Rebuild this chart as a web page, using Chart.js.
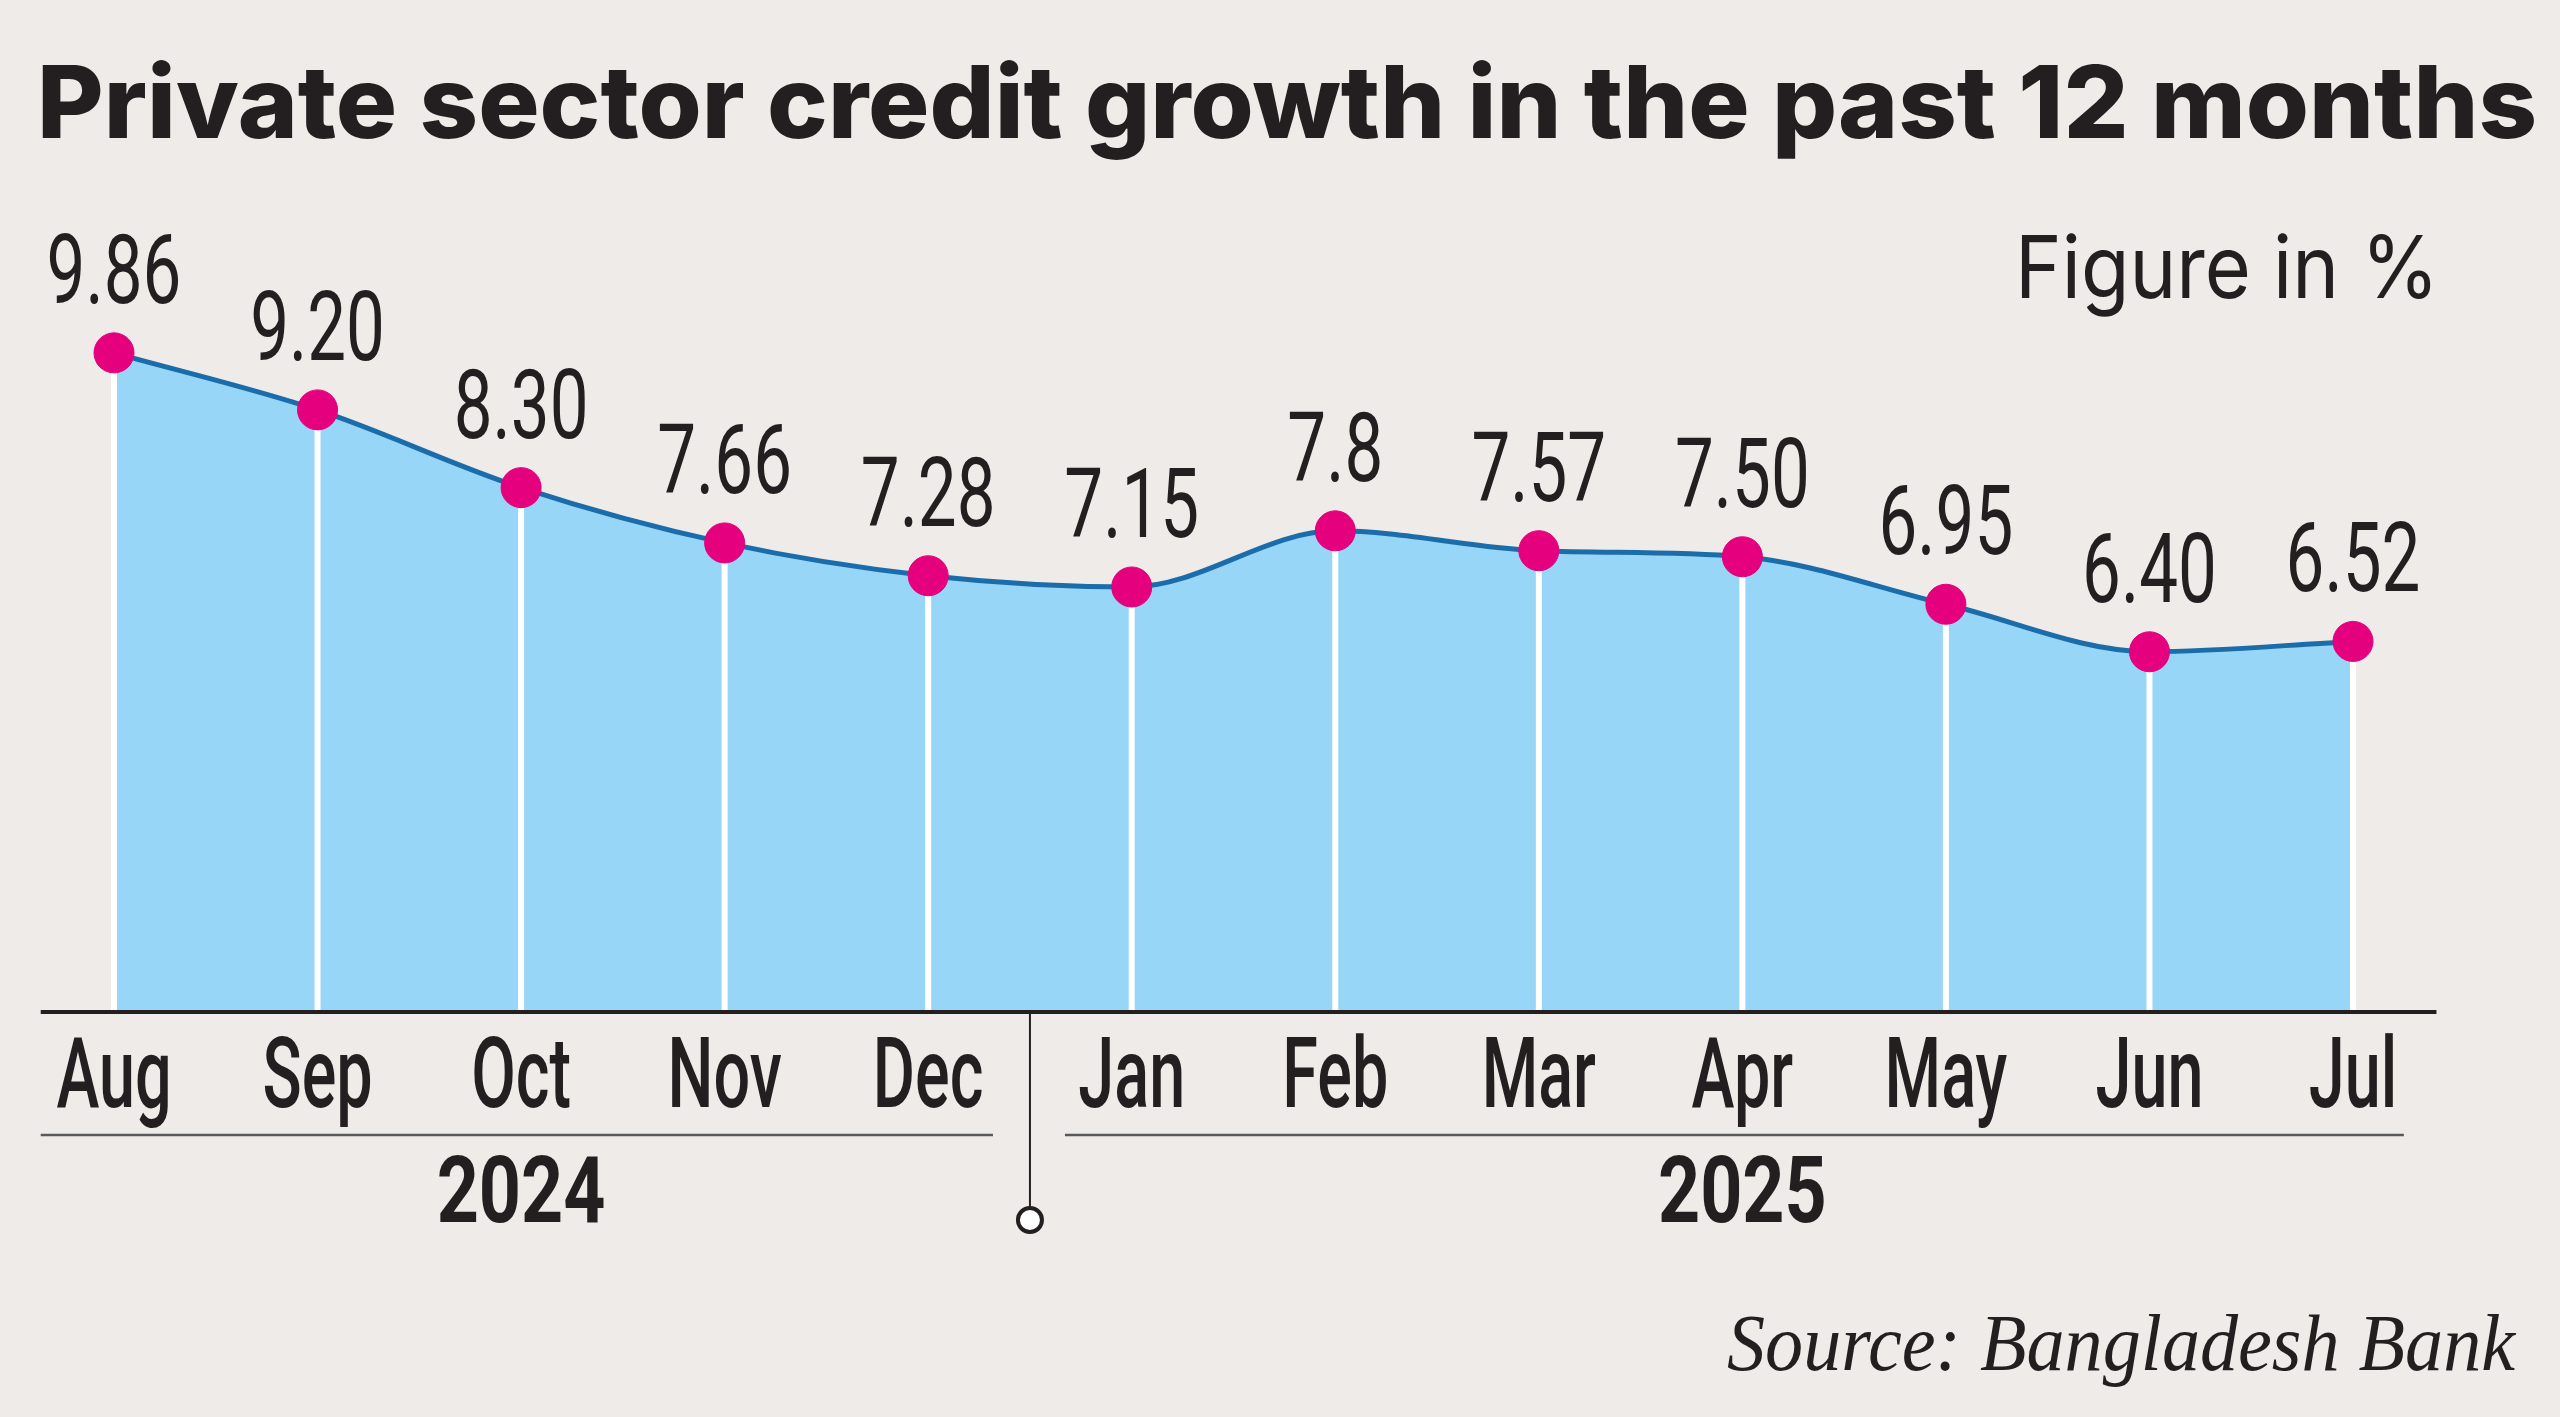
<!DOCTYPE html>
<html>
<head>
<meta charset="utf-8">
<title>Private sector credit growth in the past 12 months</title>
<script src="https://cdn.jsdelivr.net/npm/chart.js@4.4.1/dist/chart.umd.min.js"></script>
<style>
    html, body { margin: 0; padding: 0; background: #efebe8; }
    .chart-box { position: relative; width: 2560px; height: 1417px; }
</style>
</head>
<body>
<div class="chart-box"><canvas class="credit_growth"></canvas></div>
<script>
var months = ["Aug", "Sep", "Oct", "Nov", "Dec", "Jan", "Feb", "Mar", "Apr", "May", "Jun", "Jul"];
var growth = [9.86, 9.20, 8.30, 7.66, 7.28, 7.15, 7.8, 7.57, 7.50, 6.95, 6.40, 6.52];
var growthLabels = ["9.86", "9.20", "8.30", "7.66", "7.28", "7.15", "7.8", "7.57", "7.50", "6.95", "6.40", "6.52"];
var years = ["2024", "2025"];
var yearFirstMonth = [0, 5];

var ink = "#231f20";
var grotesk = "Roboto, 'Noto Sans', sans-serif";

// draws text squeezed (or stretched) to an exact width
function fitText(ctx, text, x, y, width, align) {
    var w = ctx.measureText(text).width;
    ctx.save();
    ctx.translate(x, y);
    ctx.scale(width / w, 1);
    ctx.textAlign = align;
    ctx.fillText(text, 0, 0);
    ctx.restore();
}

// the reference uses a condensed face, so squeeze a normal one
function squeezeText(ctx, text, x, y, sx) {
    ctx.save();
    ctx.translate(x, y);
    ctx.scale(sx, 1);
    ctx.textAlign = "center";
    ctx.fillText(text, 0, 0);
    ctx.restore();
}

var decorations = {
    id: "decorations",
    beforeDraw: function (chart) {
        var ctx = chart.ctx;
        ctx.save();
        ctx.fillStyle = "#efebe8";
        ctx.fillRect(0, 0, chart.width, chart.height);
        ctx.restore();
    },
    // white drop lines, above the fill and under the line
    beforeDatasetDraw: function (chart, args) {
        var ctx = chart.ctx;
        var bottom = chart.chartArea.bottom;
        ctx.save();
        ctx.strokeStyle = "#ffffff";
        ctx.lineWidth = 6;
        args.meta.data.forEach(function (pt) {
            ctx.beginPath();
            ctx.moveTo(pt.x, pt.y);
            ctx.lineTo(pt.x, bottom);
            ctx.stroke();
        });
        ctx.restore();
    },
    afterDatasetsDraw: function (chart) {
        var ctx = chart.ctx;
        var x = chart.scales.x;
        var area = chart.chartArea;
        var points = chart.getDatasetMeta(0).data;
        var step = x.getPixelForValue(1) - x.getPixelForValue(0);
        var split = (x.getPixelForValue(yearFirstMonth[1] - 1) + x.getPixelForValue(yearFirstMonth[1])) / 2;

        ctx.save();

        // axis line
        ctx.strokeStyle = ink;
        ctx.lineWidth = 4;
        ctx.beginPath();
        ctx.moveTo(area.left - step * 0.36, area.bottom);
        ctx.lineTo(area.right + step * 0.41, area.bottom);
        ctx.stroke();

        ctx.fillStyle = ink;
        ctx.textBaseline = "alphabetic";

        // value labels
        ctx.font = "400 96px " + grotesk;
        points.forEach(function (pt, i) {
            squeezeText(ctx, growthLabels[i], pt.x, pt.y - 50, 0.72);
        });

        // month labels on the category ticks
        ctx.font = "500 98px " + grotesk;
        x.ticks.forEach(function (tick, i) {
            squeezeText(ctx, x.getLabelForValue(tick.value), x.getPixelForTick(i), area.bottom + 95, 0.66);
        });

        // year rules
        var ruleY = area.bottom + 123;
        ctx.strokeStyle = "#58595b";
        ctx.lineWidth = 2.5;
        ctx.beginPath();
        ctx.moveTo(area.left - step * 0.36, ruleY);
        ctx.lineTo(split - 37, ruleY);
        ctx.moveTo(split + 35, ruleY);
        ctx.lineTo(area.right + step * 0.25, ruleY);
        ctx.stroke();

        // year labels
        ctx.font = "700 92px " + grotesk;
        years.forEach(function (year, i) {
            var first = yearFirstMonth[i];
            var last = i + 1 < years.length ? yearFirstMonth[i + 1] - 1 : months.length - 1;
            var cx = (x.getPixelForValue(first) + x.getPixelForValue(last)) / 2;
            squeezeText(ctx, year, cx, area.bottom + 210, 0.8);
        });

        // divider between the years
        ctx.strokeStyle = ink;
        ctx.lineWidth = 2;
        ctx.beginPath();
        ctx.moveTo(split, area.bottom);
        ctx.lineTo(split, area.bottom + 195);
        ctx.stroke();
        ctx.beginPath();
        ctx.arc(split, area.bottom + 208, 12, 0, Math.PI * 2);
        ctx.fillStyle = "#ffffff";
        ctx.fill();
        ctx.lineWidth = 4;
        ctx.stroke();

        ctx.restore();
    },
    afterDraw: function (chart) {
        var ctx = chart.ctx;
        ctx.save();
        ctx.fillStyle = ink;
        ctx.textBaseline = "alphabetic";

        ctx.font = "800 100px Inter, 'Noto Sans', sans-serif";
        fitText(ctx, "Private sector credit growth in the past 12 months", 37, 138, 2500, "left");

        ctx.font = "400 87px Inter, 'Noto Sans', sans-serif";
        fitText(ctx, "Figure in %", 2439, 298, 424, "right");

        ctx.font = "italic 80px 'Liberation Serif', 'DejaVu Serif', serif";
        fitText(ctx, "Source: Bangladesh Bank", 2515, 1370, 788, "right");

        ctx.restore();
    }
};

var creditContext = document.querySelector(".credit_growth");
var creditChart = new Chart(creditContext, {
    // The type of chart we want to create
    type: 'line',

    // The data for our dataset
    data: {
        labels: months,
        datasets: [{
            label: "Private sector credit growth",
            data: growth,
            borderColor: '#1a6daa',
            borderWidth: 5,
            backgroundColor: '#97d6f7',
            fill: 'start',
            cubicInterpolationMode: 'monotone',
            pointRadius: 20,
            pointHoverRadius: 20,
            pointBackgroundColor: '#e5007e',
            pointBorderColor: '#e5007e',
            pointBorderWidth: 1,
            clip: false
        }]
    },

    // Configuration options go here
    options: {
        responsive: true,
        maintainAspectRatio: false,
        animation: false,
        layout: {
            padding: { top: 168, left: 114, right: 207, bottom: 275 }
        },
        plugins: {
            legend: { display: false },
            title: { display: false },
            tooltip: { enabled: false }
        },
        scales: {
            x: {
                offset: false,
                grid: { display: false, drawTicks: false },
                border: { display: false },
                ticks: { display: false, autoSkip: false },
                afterFit: function (scale) {
                    scale.height = 130;
                }
            },
            y: {
                display: false,
                min: 2.23,
                max: 12
            }
        }
    },
    plugins: [decorations]
});
</script>
</body>
</html>
